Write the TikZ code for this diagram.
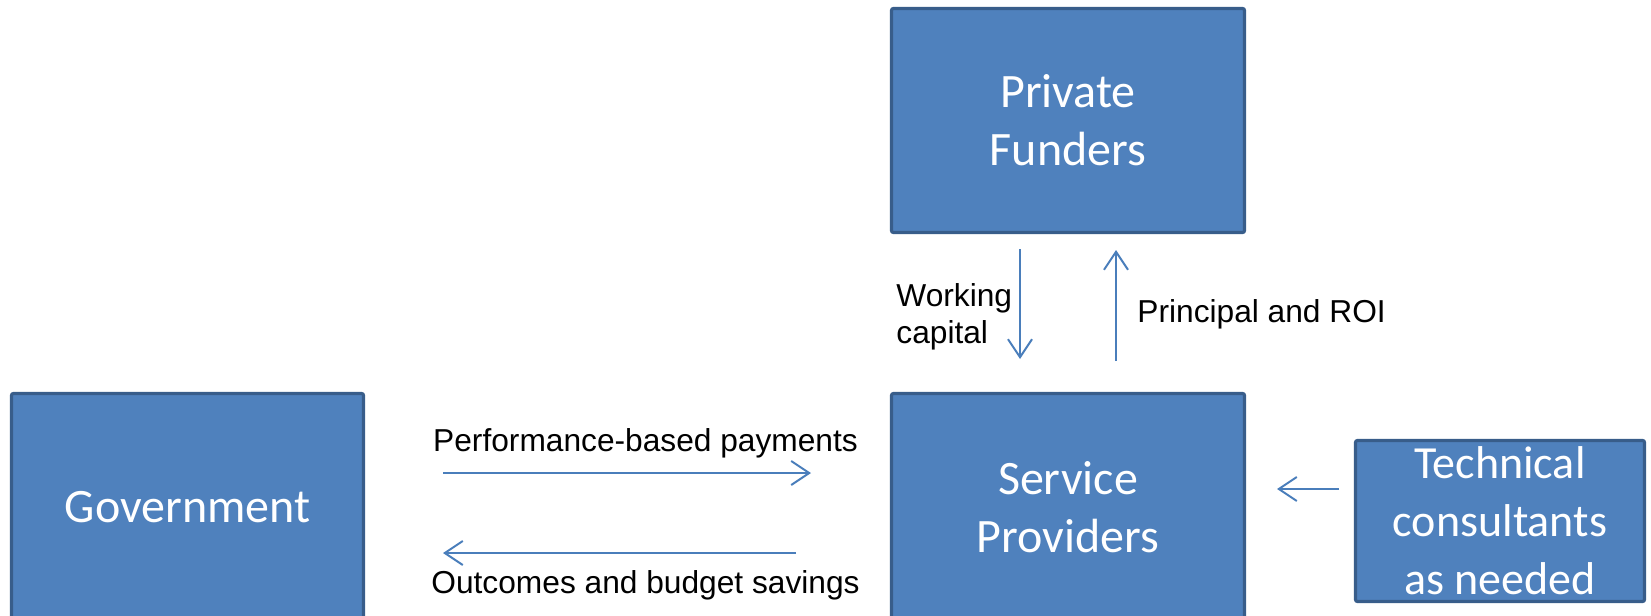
\documentclass[tikz,border=0pt]{standalone}
\usepackage{fontspec}
\setmainfont{Liberation Sans}
\newfontfamily\boxfont{Carlito}
\usepackage{tikz}
\usetikzlibrary{arrows.meta}

\definecolor{boxfill}{HTML}{4F81BD}
\definecolor{boxline}{HTML}{385D8A}
\definecolor{flowline}{HTML}{4A7EBB}

\begin{document}
\begin{tikzpicture}
  [x=0.5pt,y=-0.5pt,
   party/.style={draw=boxline,fill=boxfill,line width=1.6pt,rounded corners=1pt,
     text=white,align=center,inner sep=0pt,
     font=\boxfont\fontsize{24}{29}\selectfont},
   flow/.style={draw=flowline,line width=1pt,-{Straight Barb[length=9pt,width=12pt]}},
   lbl/.style={inner sep=0pt,font=\fontsize{15.85}{18.5}\selectfont}]
  \useasboundingbox (0,0) rectangle (1651,616);
  \clip (0,0) rectangle (1651,616);
  \node[party,minimum width=176.5pt,minimum height=112pt] (pf) at (1068,120.5) {Private\\Funders};
  \node[party,minimum width=176.5pt,minimum height=113.5pt] (sp) at (1068,507) {Service\\Providers};
  \node[party,minimum width=176pt,minimum height=113.5pt] (gov) at (187.5,507) {Government};
  \node[party,minimum width=144.5pt,minimum height=80.5pt,
    font=\boxfont\fontsize{23}{29}\selectfont] (tc) at (1500,521) {Technical\\consultants\\as needed};
  % labels
  \node[lbl,anchor=base] (lpay) at (645.5,451) {Performance-based payments};
  \node[lbl,anchor=base] (lout) at (645.5,593) {Outcomes and budget savings};
  \node[lbl,anchor=west,align=left] (lwc) at (896,316.5) {Working\\capital};
  \node[lbl,anchor=base west] (lroi) at (1137,322) {Principal and ROI};
  % arrow ends
  \coordinate (payA) at (443,473);
  \coordinate (payB) at (811,473);
  \coordinate (outA) at (796,553);
  \coordinate (outB) at (443,553);
  \coordinate (wcA) at (1020,249);
  \coordinate (wcB) at (1020,359);
  \coordinate (roiA) at (1116,361);
  \coordinate (roiB) at (1116,250);
  \coordinate (tcA) at (1339,489);
  \coordinate (tcB) at (1277,489);
  \foreach \from/\to in {payA/payB,outA/outB,wcA/wcB,roiA/roiB,tcA/tcB}
    \draw[flow] (\from) -- (\to);
\end{tikzpicture}
\end{document}
